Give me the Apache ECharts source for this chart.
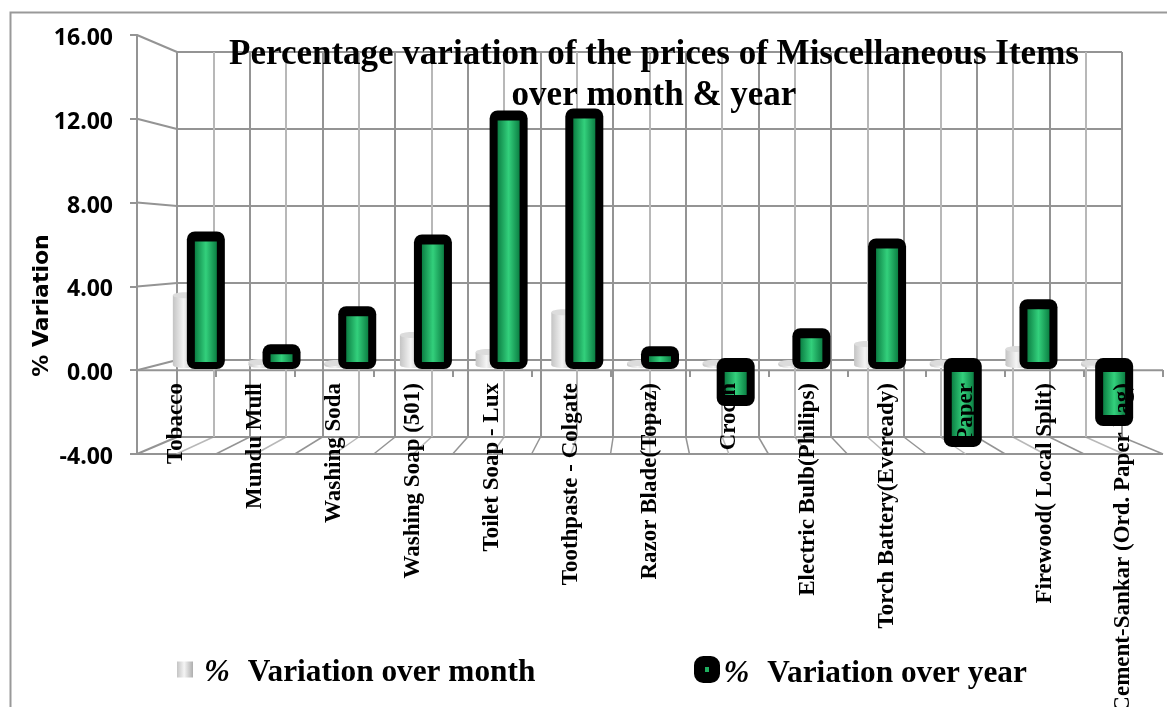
<!DOCTYPE html>
<html>
<head>
<meta charset="utf-8">
<style>html,body{margin:0;padding:0;background:#fff}#c{width:1167px;height:707px}</style>
<script src="https://cdn.jsdelivr.net/npm/echarts@6/dist/echarts.min.js"></script>
</head>
<body>
<div id="c"></div>
<script>
const categories = ['Tobacco','Mundu Mull','Washing Soda','Washing Soap (501)','Toilet Soap - Lux','Toothpaste - Colgate','Razor Blade(Topaz)','Crocin','Electric Bulb(Philips)','Torch Battery(Eveready)','Paper','Firewood( Local Split)','Cement-Sankar (Ord. Paper bag)'];
const overMonth = [3.47,0.15,0.1,1.5,0.65,2.63,0.1,0.12,0.1,1.05,0.12,0.8,0.12];
const overYear = [6.45,0.84,2.73,6.3,12.47,12.57,0.74,-1.84,1.64,6.1,-3.87,3.08,-2.83];
const seriesNames = ['%  Variation over month','%  Variation over year'];
const yMin = -4, yMax = 16, yStep = 4;
const GRID = '#949494', GRIDL = '#b8b8b8';

const chart = echarts.init(document.getElementById('c'), null, {renderer:'canvas'});

const greyFill = new echarts.graphic.LinearGradient(0,0,1,0,[
  {offset:0,color:'#c4c4c4'},{offset:0.45,color:'#f4f4f4'},{offset:1,color:'#aeaeae'}]);
const greenFill = new echarts.graphic.LinearGradient(0,0,1,0,[
  {offset:0,color:'#0c8044'},{offset:0.5,color:'#33d07c'},{offset:1,color:'#0c8044'}]);

const legendRich = {
  p:{fontFamily:'Liberation Serif',fontStyle:'italic',fontWeight:'bold',fontSize:31,color:'#000'},
  g:{width:18},
  v:{fontFamily:'Liberation Serif',fontWeight:'bold',fontSize:31.3,color:'#000'}
};
const legendFmt = n => '{p|%}{g|}{v|' + n.replace(/^%\s+/,'') + '}';

function renderGrey(params, api){
  const i = api.value(0), top = api.coord([i, api.value(1)]), base = api.coord([i, 0]);
  const w = 24, cx = top[0] - 12, ry = 3;
  return {type:'group',children:[
    {type:'rect',shape:{x:cx-w/2,y:top[1],width:w,height:base[1]-top[1]},style:{fill:greyFill}},
    {type:'ellipse',shape:{cx:cx,cy:base[1],rx:w/2,ry:ry},style:{fill:greyFill}},
    {type:'ellipse',shape:{cx:cx,cy:top[1],rx:w/2,ry:ry},style:{fill:'#dcdcdc'}}
  ]};
}
function renderGreen(params, api){
  const i = api.value(0), v = api.value(1), end = api.coord([i, v]), base = api.coord([i, 0]);
  const W = 38, w = 22, cx = end[0] + 9;
  let oTop, oBot, gTop, gBot;
  if (v >= 0) { oTop = end[1]-4; oBot = base[1]+4; gTop = end[1]+6; gBot = base[1]-3; }
  else { oTop = base[1]-7; oBot = end[1]+4; gTop = base[1]+7; gBot = end[1]-7; }
  return {type:'group',children:[
    {type:'rect',shape:{x:cx-W/2,y:oTop,width:W,height:oBot-oTop,r:8},style:{fill:'#000'}},
    {type:'rect',shape:{x:cx-w/2,y:gTop,width:w,height:Math.max(gBot-gTop,1)},style:{fill:greenFill}}
  ]};
}

chart.setOption({
  animation:false,
  backgroundColor:'#fff',
  title:{
    text:'Percentage variation of the prices of Miscellaneous Items\nover month & year',
    left:649, top:29, textAlign:'center', z:6,
    textStyle:{fontFamily:'Liberation Serif',fontWeight:'bold',fontSize:35,lineHeight:41,color:'#000'}
  },
  legend:[
    {data:[{name:seriesNames[0],icon:'rect'}],left:177,top:657,padding:0,itemWidth:16,itemHeight:16,itemGap:0,
     itemStyle:{color:greyFill},
     formatter:legendFmt,textStyle:{rich:legendRich,padding:[6,0,0,6]}},
    {data:[{name:seriesNames[1],icon:'roundRect',itemStyle:{color:'#1fae5f',borderColor:'#000',borderWidth:11}}],
     left:694,top:656,padding:0,itemWidth:15,itemHeight:16,itemGap:0,
     formatter:legendFmt,textStyle:{rich:legendRich,padding:[8,0,0,4]}}
  ],
  // 0 = back wall, 1 = bars at mid depth, 2 = front value axis, 3 = front category axis (its base sits on the zero level)
  grid:[
    {left:177,width:945,top:52,height:385,outerBoundsMode:'none'},
    {left:159,width:984,top:43.5,height:402,outerBoundsMode:'none'},
    {left:137,width:1026,top:35,height:419,outerBoundsMode:'none'},
    {left:137,width:1026,top:35,height:335,outerBoundsMode:'none'}
  ],
  xAxis:[
    {gridIndex:0,type:'value',min:0,max:categories.length,interval:1,
     axisLine:{show:false},axisTick:{show:false},axisLabel:{show:false},
     splitLine:{show:true,lineStyle:{color:GRID,width:2}},
     minorTick:{show:false,splitNumber:2},
     minorSplitLine:{show:true,lineStyle:{color:GRIDL,width:2}}},
    {gridIndex:1,type:'category',data:categories,show:false},
    {gridIndex:2,type:'category',data:categories,show:false},
    {gridIndex:3,type:'category',data:categories,z:6,position:'bottom',
     axisLine:{onZero:false,show:false},
     axisTick:{show:true,length:7,alignWithLabel:false,lineStyle:{color:GRID,width:2}},
     axisLabel:{show:true,interval:0,rotate:90,margin:13,fontFamily:'Liberation Serif',fontWeight:'bold',fontSize:23,color:'#000'}}
  ],
  yAxis:[
    {gridIndex:0,type:'value',min:yMin,max:yMax,interval:yStep,
     axisLine:{show:false},axisTick:{show:false},axisLabel:{show:false},
     splitLine:{show:true,lineStyle:{color:GRID,width:2}}},
    {gridIndex:1,type:'value',min:yMin,max:yMax,interval:yStep,show:false,splitLine:{show:false}},
    {gridIndex:2,type:'value',min:yMin,max:yMax,interval:yStep,
     axisLine:{show:true,lineStyle:{color:GRID,width:2}},
     axisTick:{show:true,length:7,lineStyle:{color:GRID,width:2}},
     axisLabel:{margin:24,formatter:v=>'{a|'+v.toFixed(2)+'}',
       rich:{a:{fontFamily:'Open Sans',fontWeight:'bold',fontSize:23,color:'#000',padding:[7,0,0,0]}}},
     splitLine:{show:false}},
    {gridIndex:3,type:'value',min:0,max:yMax,
     name:'% Variation',nameLocation:'middle',nameGap:84,nameRotate:90,
     nameTextStyle:{fontFamily:'DejaVu Sans',fontWeight:'bold',fontSize:22,color:'#000',padding:[0,206,0,0]},
     axisLine:{show:false},axisTick:{show:false},axisLabel:{show:false},splitLine:{show:false}}
  ],
  series:[
    {name:seriesNames[0],type:'custom',xAxisIndex:1,yAxisIndex:1,z:3,clip:false,
     data:overMonth.map((v,i)=>[i,v]),encode:{x:0,y:1},renderItem:renderGrey,itemStyle:{color:greyFill}},
    {name:seriesNames[1],type:'custom',xAxisIndex:1,yAxisIndex:1,z:4,clip:false,
     data:overYear.map((v,i)=>[i,v]),encode:{x:0,y:1},renderItem:renderGreen,itemStyle:{color:'#1fae5f'}}
  ]
});

// perspective connectors between the front plane and the back wall
function wallLines(){
  const els = [];
  const line = (a,b,w,c) => els.push({type:'line',z:-1,silent:true,shape:{x1:a[0],y1:a[1],x2:b[0],y2:b[1]},style:{stroke:c||GRID,lineWidth:w||2}});
  const back = p => chart.convertToPixel({gridIndex:0},p);
  const bandF = chart.getModel().getComponent('xAxis',2).axis.getBandWidth();
  const fx = chart.convertToPixel({xAxisIndex:2},0) - bandF/2;
  const fxEnd = fx + bandF*categories.length;
  for(let v=yMin;v<=yMax;v+=yStep){
    const yF = chart.convertToPixel({yAxisIndex:2},v);
    line([fx,yF],back([0,v]));
  }
  const yFB = chart.convertToPixel({yAxisIndex:2},yMin);
  line([fx,yFB],[fxEnd,yFB]);
  const yF0 = chart.convertToPixel({yAxisIndex:2},0);
  line([fx,yF0],[fxEnd,yF0]);
  for(let i=1;i<=categories.length*2;i++){
    line([fx+bandF*i/2,yFB],back([i/2,yMin]),1.5,i%2?GRIDL:GRID);
  }
  els.push({type:'rect',z:-2,silent:true,shape:{x:10.5,y:12.5,width:1300,height:1000},style:{fill:'none',stroke:'#999',lineWidth:2}});
  chart.setOption({graphic:{elements:els}});
}
wallLines();
</script>
</body>
</html>
